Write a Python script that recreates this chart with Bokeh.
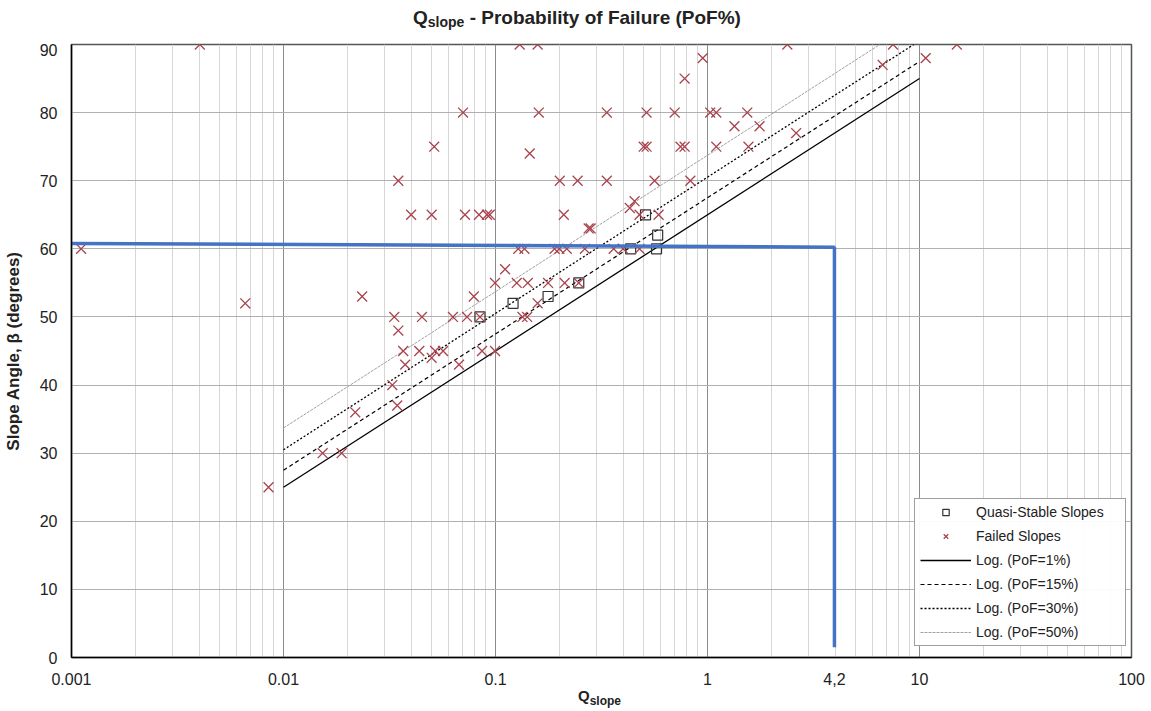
from bokeh.plotting import figure
from bokeh.models import FixedTicker, CustomJSTickFormatter, Legend, LegendItem, Div
from bokeh.layouts import column
from bokeh.embed import file_html
from bokeh.resources import INLINE

# ---------------- data ----------------
quasi_q = [0.0845, 0.121, 0.177, 0.247, 0.434, 0.575, 0.582, 0.51]
quasi_beta = [50, 52, 53, 55, 60, 60, 62, 65]

failed_q = [0.00111, 0.00403, 0.0066, 0.0085, 0.0153, 0.0188, 0.0218, 0.0235,
            0.0326, 0.0333, 0.0344, 0.0348, 0.0348, 0.0367, 0.0375, 0.040,
            0.0437, 0.045, 0.050, 0.050, 0.0514, 0.0519, 0.0566, 0.063,
            0.0673, 0.0703, 0.0718, 0.0734, 0.079, 0.0836, 0.0845, 0.0864,
            0.0912, 0.094, 0.0995, 0.0995, 0.111, 0.126, 0.128, 0.130,
            0.134, 0.137, 0.141, 0.142, 0.145, 0.158, 0.158, 0.160,
            0.177, 0.19, 0.20, 0.201, 0.21, 0.212, 0.217, 0.244, 0.247,
            0.264, 0.275, 0.281, 0.335, 0.335, 0.361, 0.40, 0.43, 0.453,
            0.478, 0.478, 0.50, 0.516, 0.516, 0.563, 0.588, 0.70, 0.746,
            0.78, 0.78, 0.83, 0.95, 1.03, 1.10, 1.10, 1.34, 1.54, 1.56,
            1.76, 2.38, 2.62, 6.7, 7.5, 10.7, 15.0]
failed_beta = [60, 90, 52, 25, 30, 30, 36, 53,
               40, 50, 37, 48, 70, 45, 43, 65,
               45, 50, 44, 65, 75, 45, 45, 50,
               43, 80, 65, 50, 53, 65, 50, 45,
               65, 65, 45, 55, 57, 55, 60, 90,
               50, 60, 50, 55, 74, 90, 52, 80,
               55, 60, 60, 70, 65, 55, 60, 70, 55,
               60, 63, 63, 70, 80, 60, 60, 66, 67,
               60, 65, 75, 75, 80, 70, 65, 80, 75,
               75, 85, 70, 88, 80, 80, 75, 78, 80, 75,
               78, 90, 77, 87, 90, 88, 90]

pof1_q, pof1_beta = [0.01, 10.0], [25.0, 85.0]
pof15_q, pof15_beta = [0.01, 10.0], [27.5, 87.5]
pof30_q, pof30_beta = [0.01, 9.4], [30.5, 90.0]
pof50_q, pof50_beta = [0.01, 6.5], [33.7, 90.0]

series_labels = ["Quasi-Stable Slopes", "Failed Slopes", "Log. (PoF=1%)",
                 "Log. (PoF=15%)", "Log. (PoF=30%)", "Log. (PoF=50%)"]

marker_q = [0.001, 3.97, 3.97]
marker_beta = [60.8, 60.25, 1.5]
marker_text = "4,2"

x_ticks = [0.001, 0.01, 0.1, 1, 10, 100]
y_ticks = list(range(0, 91, 10))

FONT = "Liberation Sans"
W, H = 1151, 711
LEFT, RIGHT = 69, 1131
TITLE_H, XLAB_H = 43, 24
FIG_H = H - TITLE_H - XLAB_H          # 644
FRAME_TOP_BORDER, FRAME_BOTTOM_BORDER = 1, 30   # frame: 613 px tall

p = figure(width=W, height=FIG_H, x_axis_type="log",
           x_range=(0.001, 100), y_range=(0, 90),
           output_backend="svg", toolbar_location=None,
           min_border_left=LEFT, min_border_right=W - RIGHT,
           min_border_top=FRAME_TOP_BORDER, min_border_bottom=FRAME_BOTTOM_BORDER,
           margin=0)

minor = [m * 10 ** e for e in range(-3, 2) for m in range(2, 10)]
p.xaxis.ticker = FixedTicker(ticks=x_ticks + [marker_q[1]], minor_ticks=[])
p.xaxis.formatter = CustomJSTickFormatter(
    args=dict(mq=marker_q[1], mt=marker_text),
    code="if (Math.abs(tick - mq) < 1e-6) { return mt; } return String(Number(tick.toPrecision(3)));")
p.yaxis.ticker = FixedTicker(ticks=y_ticks)
p.xgrid.ticker = FixedTicker(ticks=x_ticks, minor_ticks=minor)
p.ygrid.ticker = FixedTicker(ticks=y_ticks)

for ax in (p.xaxis, p.yaxis):
    ax.major_tick_line_color = None
    ax.minor_tick_line_color = None
    ax.axis_line_color = "black"
    ax.axis_line_width = 1.5
    ax.major_label_text_font = FONT
    ax.major_label_text_font_size = "16px"
    ax.major_label_text_color = "#222222"

p.xaxis.major_label_standoff = 9
p.yaxis.major_label_standoff = 8
p.yaxis.axis_label = "Slope Angle, \u03b2 (degrees)"
p.yaxis.axis_label_text_font = FONT
p.yaxis.axis_label_text_font_style = "bold"
p.yaxis.axis_label_text_font_size = "17px"
p.yaxis.axis_label_text_color = "#222222"
p.yaxis.axis_label_standoff = 14

p.outline_line_color = "#555555"
p.outline_line_width = 1.5

p.xgrid.grid_line_color = "#8c8c8c"
p.xgrid.minor_grid_line_color = "#d6d6d6"
p.ygrid.grid_line_color = "#b0b0b0"

# ---------------- glyphs ----------------
r1 = p.line(pof1_q, pof1_beta, line_color="black", line_width=1.3)
r15 = p.line(pof15_q, pof15_beta, line_color="black", line_width=1.2, line_dash="4 3")
r30 = p.line(pof30_q, pof30_beta, line_color="black", line_width=1.3, line_dash="2 2")
r50 = p.line(pof50_q, pof50_beta, line_color="#a0a0a0", line_width=1.0, line_dash="3 1")

rsq = p.scatter(quasi_q, quasi_beta, marker="square", size=10,
                fill_color=None, line_color="#333333", line_width=1.2)
rx = p.scatter(failed_q, failed_beta, marker="x", size=14,
               line_color="#a8434d", line_width=1.3)

p.line(marker_q, marker_beta, line_color="#4472C4", line_width=3.5)

# ---------------- legend ----------------
FRAME_BOTTOM_PAGE = TITLE_H + FRAME_TOP_BORDER + 613
legend = Legend(items=[
    LegendItem(label=series_labels[0], renderers=[rsq]),
    LegendItem(label=series_labels[1], renderers=[rx]),
    LegendItem(label=series_labels[2], renderers=[r1]),
    LegendItem(label=series_labels[3], renderers=[r15]),
    LegendItem(label=series_labels[4], renderers=[r30]),
    LegendItem(label=series_labels[5], renderers=[r50]),
], location=(912 - LEFT, FRAME_BOTTOM_PAGE - 646))
legend.border_line_color = "#404040"
legend.border_line_width = 1.5
legend.padding = 5
legend.spacing = 8
legend.label_height = 16
legend.glyph_height = 16
legend.glyph_width = 51
legend.label_standoff = 5
legend.label_width = 144
legend.label_text_font = FONT
legend.label_text_font_size = "14px"
legend.label_text_color = "#222222"
legend.margin = 0
p.add_layout(legend)

# ---------------- title and x-axis label (HTML, with real subscripts) ----------------
title_html = (
    '<div style="margin-left:413px; padding-top:7px; white-space:nowrap; '
    'font-family:\'Liberation Sans\', Arial, sans-serif; font-weight:bold; '
    'font-size:19px; line-height:21px; color:#222222;">'
    'Q<span style="font-size:14px; position:relative; top:3px;">slope</span>'
    ' - Probability of Failure (PoF%)</div>'
)
xlabel_html = (
    '<div style="margin-left:578px; padding-top:0px; white-space:nowrap; '
    'font-family:\'Liberation Sans\', Arial, sans-serif; font-weight:bold; '
    'font-size:15px; line-height:17px; color:#222222;">'
    'Q<span style="font-size:12px; position:relative; top:4px;">slope</span></div>'
)
title_div = Div(text=title_html, width=W, height=TITLE_H, margin=0)
xlabel_div = Div(text=xlabel_html, width=W, height=XLAB_H, margin=0)

layout = column(title_div, p, xlabel_div, spacing=0, margin=0)

open("out.html", "w").write(file_html(layout, INLINE))
